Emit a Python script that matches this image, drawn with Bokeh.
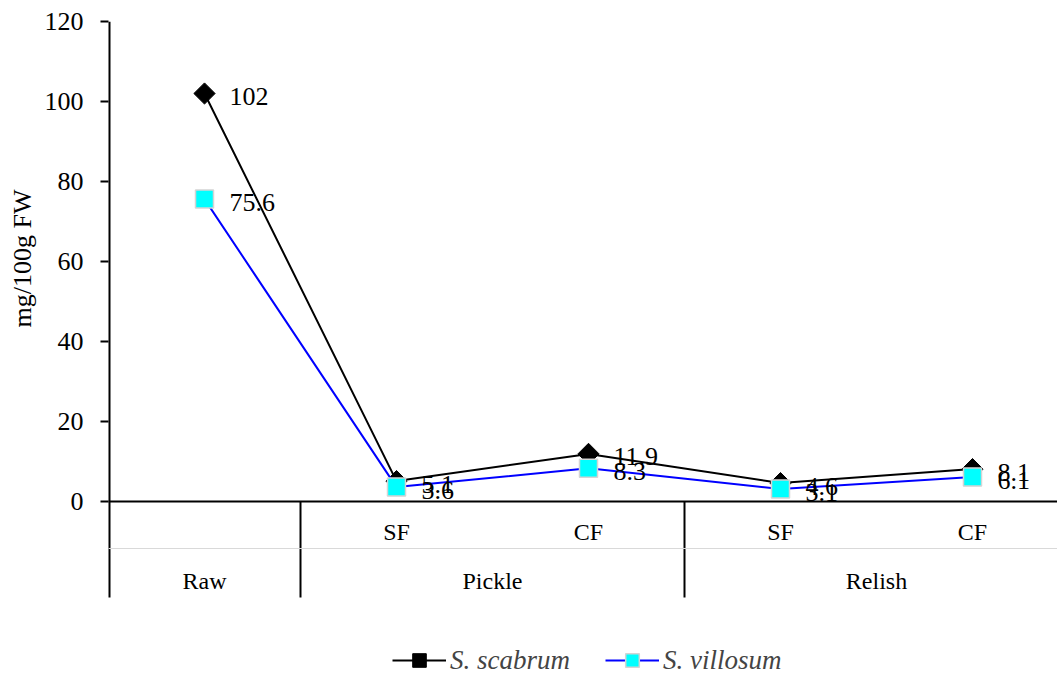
import math
from bokeh.plotting import figure
from bokeh.models import (Range1d, FixedTicker, Span, Legend, LegendItem, Title)
from bokeh.core.properties import value
from bokeh.embed import file_html
from bokeh.resources import INLINE

# ---- data ----
sub_labels = ["", "SF", "CF", "SF", "CF"]
groups = ["Raw", "Pickle", "Relish"]
group_sizes = [1, 2, 2]
scabrum = [102, 5.1, 11.9, 4.6, 8.1]
villosum = [75.6, 3.6, 8.3, 3.1, 6.1]
scabrum_labels = ["102", "5.1", "11.9", "4.6", "8.1"]
villosum_labels = ["75.6", "3.6", "8.3", "3.1", "6.1"]
y_ticks = [0, 20, 40, 60, 80, 100, 120]
y_title = "mg/100g FW"
series_names = ["S. scabrum", "S. villosum"]

FONT = "Liberation Serif"
xs = list(range(len(scabrum)))
Y_TOP = 120
Y_TABLE = -24
Y_BOTTOM = -43

p = figure(frame_width=950, frame_height=652, output_backend="svg", toolbar_location=None,
           x_range=Range1d(-0.5, -0.5 + 950 / 192), y_range=Range1d(Y_BOTTOM, Y_TOP),
           x_axis_location=None, min_border_left=107, min_border_right=0,
           min_border_top=21, min_border_bottom=0)
p.outline_line_color = None
p.grid.visible = False

ax = p.yaxis[0]
ax.ticker = FixedTicker(ticks=y_ticks)
ax.minor_tick_line_color = None
ax.major_tick_out = 8
ax.major_tick_in = 0
ax.axis_line_color = None
ax.major_tick_line_width = 2
ax.major_label_text_font = FONT
ax.major_label_text_font_size = "26px"
ax.major_label_text_color = "black"
ax.major_label_standoff = 17

# y axis title, centred on the 0-120 part of the axis
p.add_layout(Title(text=y_title, text_font=FONT, text_font_size="26px", text_font_style="normal",
                   text_color="black", align="right", offset=168, standoff=10), "left")

# y axis line, only down to the bottom of the category table
p.segment(x0=[-0.5], y0=[Y_TABLE], x1=[-0.5], y1=[Y_TOP], line_color="black", line_width=4)

# category table lines
p.add_layout(Span(location=-11.75, dimension="width", line_color="#d9d9d9", line_width=1))
p.add_layout(Span(location=0, dimension="width", line_color="black", line_width=2))
bounds = []
acc = 0
centers = []
for g in group_sizes:
    centers.append(acc + (g - 1) / 2)
    acc += g
    bounds.append(acc - 0.5)
p.segment(x0=bounds, y0=[0] * len(bounds), x1=bounds, y1=[Y_TABLE] * len(bounds),
          line_color="black", line_width=2)

p.text(x=xs, y=[-7.5] * len(xs), text=sub_labels, text_align="center", text_baseline="middle",
       text_font=value(FONT), text_font_size="24px", text_color="black")
p.text(x=centers, y=[-19.75] * len(centers), text=groups, text_align="center", text_baseline="middle",
       text_font=value(FONT), text_font_size="24px", text_color="black")

# series
l1 = p.line(xs, scabrum, line_color="black", line_width=2)
s1 = p.scatter(xs, scabrum, marker="square", angle=math.pi / 4, size=15,
               fill_color="black", line_color="black")
l2 = p.line(xs, villosum, line_color="#0000FF", line_width=2)
s2 = p.scatter(xs, villosum, marker="square", size=18, fill_color="#00FFFF",
               line_color="#d4d4d4", line_width=1.5)

p.text(x=xs, y=scabrum, text=scabrum_labels, x_offset=25, y_offset=3, text_baseline="middle",
       text_font=value(FONT), text_font_size="26px", text_color="black")
p.text(x=xs, y=villosum, text=villosum_labels, x_offset=25, y_offset=3, text_baseline="middle",
       text_font=value(FONT), text_font_size="26px", text_color="black")

legend = Legend(items=[LegendItem(label=series_names[0], renderers=[l1, s1]),
                       LegendItem(label=series_names[1], renderers=[l2, s2])],
                orientation="horizontal", location=(284, -4))
legend.label_text_font = FONT
legend.label_text_font_size = "27px"
legend.label_text_font_style = "italic"
legend.glyph_width = 54
legend.glyph_height = 34
legend.label_height = 34
legend.label_standoff = 4
legend.spacing = 35
legend.padding = 0
legend.margin = 0
legend.border_line_color = None
legend.background_fill_alpha = 0
p.add_layout(legend, "center")

open("out.html", "w").write(file_html(p, INLINE))
